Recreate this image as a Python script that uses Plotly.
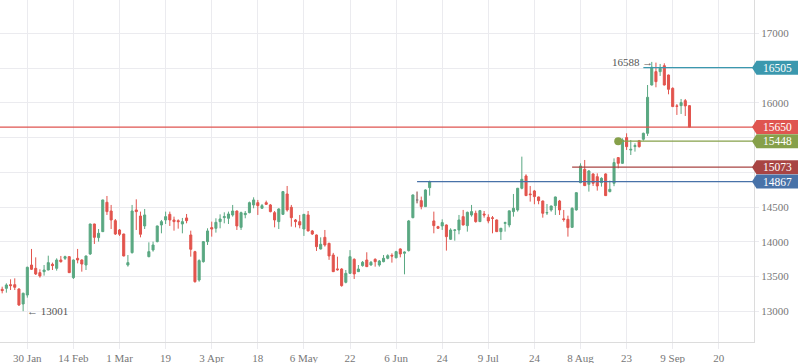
import pandas as pd
import plotly.graph_objects as go

# ---------------- data ----------------
holidays = ["2019-03-08", "2019-05-01", "2019-05-09", "2019-06-12"]
dates = [d.strftime("%Y-%m-%d") for d in pd.bdate_range("2019-01-22", "2019-09-13")
         if d.strftime("%Y-%m-%d") not in holidays]

opens = [13316, 13330, 13383, 13383, 13321, 13105, 13234, 13666, 13618, 13556,
         13570, 13594, 13676, 13618, 13738, 13762, 13786, 13484, 13762, 13738,
         13666, 13825, 14256, 14060, 14146, 14568, 14443, 14304, 14170, 14112,
         13666, 13844, 14458, 14371, 14228, 13786, 13882, 14002, 14242, 14314,
         14395, 14314, 14304, 14256, 14343, 14098, 13858, 13450, 13714, 14002,
         14204, 14194, 14290, 14348, 14338, 14386, 14443, 14208, 14390, 14419,
         14530, 14563, 14482, 14563, 14530, 14419, 14290, 14395, 14688, 14496,
         14314, 14290, 14184, 14386, 14156, 14098, 13896, 14064, 13978, 13810,
         13610, 13608, 13417, 13546, 13748, 13570, 13657, 13738, 13666, 13748,
         13666, 13714, 13762, 13805, 13770, 13897, 13835, 13873, 14347, 14602,
         14592, 14506, 14779, 14300, 14218, 14228, 14242, 14036, 14165, 14170,
         14362, 14232, 14386, 14410, 14290, 14400, 14352, 14345, 14314, 14146,
         14265, 14242, 14434, 14458, 14770, 14947, 14688, 14731, 14645, 14587,
         14415, 14458, 14520, 14587, 14330, 14323, 14208, 14458, 14851, 15043,
         14827, 14976, 14937, 14851, 14976, 14722, 14842, 15211, 15129, 15499,
         15320, 15370, 15455, 15475, 15561, 16256, 16448, 16448, 16534, 16400,
         16208, 15955, 15959, 16031, 15959]
highs = [13354, 13402, 13460, 13474, 13330, 13268, 13642, 13897, 13776, 13604,
         13666, 13800, 13700, 13762, 13796, 13800, 13795, 13745, 13897, 13748,
         13800, 14260, 14260, 14184, 14605, 14659, 14530, 14328, 14184, 14115,
         13810, 14530, 14611, 14434, 14472, 13992, 14002, 14232, 14314, 14434,
         14434, 14362, 14323, 14343, 14400, 14160, 13870, 13748, 14010, 14194,
         14290, 14338, 14395, 14424, 14434, 14530, 14450, 14434, 14443, 14578,
         14640, 14602, 14544, 14592, 14544, 14443, 14482, 14731, 14803, 14530,
         14328, 14386, 14400, 14443, 14170, 14105, 14064, 14170, 13985, 13840,
         13786, 13620, 13594, 13880, 13762, 13666, 13724, 13849, 13724, 13762,
         13738, 13810, 13820, 13834, 13870, 13906, 13860, 14314, 14680, 14722,
         14650, 14755, 14880, 14434, 14230, 14323, 14250, 14194, 14180, 14386,
         14458, 14434, 14530, 14448, 14458, 14443, 14395, 14371, 14320, 14200,
         14290, 14448, 14688, 14775, 15225, 14971, 14803, 14746, 14650, 14592,
         14544, 14520, 14650, 14602, 14458, 14376, 14496, 14710, 15129, 15177,
         15033, 14985, 14985, 14928, 14985, 14880, 15200, 15215, 15489, 15561,
         15465, 15417, 15465, 15570, 16256, 16588, 16578, 16559, 16568, 16405,
         16223, 15983, 16055, 16055, 15965]
lows = [13258, 13268, 13306, 13306, 13076, 13001, 13196, 13594, 13522, 13484,
        13513, 13590, 13594, 13585, 13700, 13738, 13550, 13465, 13690, 13570,
        13594, 13810, 13969, 14002, 14140, 14386, 14184, 14098, 14084, 13790,
        13642, 13830, 14170, 14064, 14184, 13777, 13858, 13992, 14122, 14256,
        14228, 14160, 14189, 14122, 14266, 13786, 13412, 13426, 13700, 13954,
        14074, 14132, 14194, 14266, 14256, 14362, 14170, 14170, 14338, 14410,
        14482, 14386, 14478, 14530, 14424, 14208, 14184, 14386, 14434, 14218,
        14208, 14194, 14084, 14150, 14098, 13868, 13890, 13930, 13740, 13565,
        13585, 13354, 13402, 13537, 13465, 13565, 13642, 13640, 13657, 13642,
        13642, 13705, 13748, 13700, 13762, 13776, 13532, 13860, 14338, 14554,
        14467, 14500, 14664, 14122, 14190, 14170, 13873, 14026, 14016, 14108,
        14235, 14146, 14362, 14275, 14285, 14347, 14266, 14122, 14140, 14026,
        14146, 14208, 14362, 14434, 14755, 14660, 14578, 14540, 14540, 14347,
        14386, 14434, 14386, 14386, 14290, 14074, 14200, 14448, 14842, 14805,
        14722, 14803, 14736, 14794, 14660, 14712, 14800, 15057, 15120, 15321,
        15249, 15297, 15355, 15455, 15523, 16250, 16223, 16386, 16250, 16122,
        15940, 15825, 15839, 15810, 15645]
closes = [13297, 13378, 13369, 13345, 13091, 13259, 13633, 13604, 13537, 13508,
          13594, 13700, 13657, 13738, 13714, 13786, 13556, 13738, 13738, 13680,
          13796, 14256, 14064, 14122, 14602, 14434, 14314, 14112, 14108, 13796,
          13700, 14443, 14434, 14108, 14386, 13858, 13954, 14228, 14290, 14362,
          14314, 14290, 14290, 14290, 14304, 13892, 13426, 13729, 14002, 14156,
          14184, 14280, 14328, 14362, 14400, 14443, 14228, 14419, 14410, 14563,
          14602, 14520, 14520, 14539, 14434, 14314, 14472, 14722, 14458, 14347,
          14290, 14242, 14395, 14156, 14112, 13930, 13964, 13954, 13796, 13570,
          13598, 13369, 13546, 13786, 13537, 13608, 13705, 13642, 13705, 13714,
          13724, 13762, 13800, 13795, 13858, 13825, 13852, 14300, 14674, 14602,
          14506, 14746, 14865, 14232, 14194, 14276, 14074, 14170, 14170, 14314,
          14242, 14424, 14434, 14290, 14448, 14386, 14300, 14337, 14146, 14194,
          14275, 14445, 14482, 14770, 14899, 14664, 14678, 14650, 14592, 14410,
          14420, 14515, 14645, 14458, 14320, 14204, 14482, 14707, 15091, 14808,
          15019, 14842, 14803, 14913, 14664, 14755, 15140, 15129, 15465, 15369,
          15330, 15384, 15369, 15561, 16079, 16511, 16304, 16496, 16256, 16194,
          15945, 15950, 16003, 15955, 15650]

tick_labels = ["30 Jan", "14 Feb", "1 Mar", "19", "3 Apr", "18", "6 May", "22",
               "6 Jun", "24", "9 Jul", "24", "8 Aug", "23", "9 Sep", "20"]
first_tick_date = "2019-01-30"
tick_step = 11
y_ticks = [13000, 13500, 14000, 14500, 15000, 15500, 16000, 16500, 17000]

levels = [16505, 15650, 15448, 15073, 14867]
level_starts = ["2019-08-29", None, "2019-08-21", "2019-08-06", "2019-06-14"]
level_colors = ["#3b98ae", "#df5550", "#86a04a", "#a84443", "#4872a8"]
dot_level = 15448

high_note = ("2019-09-03", 16588)
low_note = ("2019-01-29", 13001)

# ---------------- figure ----------------
n = len(opens)
xs = list(range(n))
idx = {d: i for i, d in enumerate(dates[:n])}

X_RANGE = [-0.52, 179.4]
Y_RANGE = [12558, 17479]

GREEN = "#5aa882"
RED = "#e2544d"

fig = go.Figure()
fig.add_trace(go.Candlestick(
    x=xs, open=opens, high=highs, low=lows, close=closes,
    increasing=dict(line=dict(color=GREEN, width=1), fillcolor=GREEN),
    decreasing=dict(line=dict(color=RED, width=1), fillcolor=RED),
    whiskerwidth=0, showlegend=False, hoverinfo="skip"))

# doji candles (open == close) drawn grey
dj = [i for i in range(n) if opens[i] == closes[i]]
if dj:
    fig.add_trace(go.Candlestick(
        x=[xs[i] for i in dj], open=[opens[i] for i in dj], high=[highs[i] for i in dj],
        low=[lows[i] for i in dj], close=[closes[i] for i in dj],
        increasing=dict(line=dict(color="#8a8a8a", width=1), fillcolor="#8a8a8a"),
        decreasing=dict(line=dict(color="#8a8a8a", width=1), fillcolor="#8a8a8a"),
        whiskerwidth=0, showlegend=False, hoverinfo="skip"))

shapes = []
annotations = []
PLOT_H = 342.0
PLOT_W = 754.0
yspan = Y_RANGE[1] - Y_RANGE[0]
for lv, st, col in zip(levels, level_starts, level_colors):
    x0 = X_RANGE[0] if st is None else idx[st]
    shapes.append(dict(type="line", xref="x", yref="y", x0=x0, x1=X_RANGE[1],
                       y0=lv, y1=lv, line=dict(color=col, width=1.3), layer="above"))
    yp = (lv - Y_RANGE[0]) / yspan
    h = 7.0 / PLOT_H
    xa = 1 - 2.0 / PLOT_W
    xb = 1 + 2.5 / PLOT_W
    xc = 1 + 44.0 / PLOT_W
    path = (f"M {xa},{yp} L {xb},{yp + h} L {xc},{yp + h} "
            f"L {xc},{yp - h} L {xb},{yp - h} Z")
    shapes.append(dict(type="path", xref="paper", yref="paper", path=path,
                       fillcolor=col, line=dict(width=0), layer="above"))
    annotations.append(dict(xref="paper", yref="y", x=1 + 23.0 / PLOT_W, y=lv,
                            text=str(lv), showarrow=False, xanchor="center",
                            yanchor="middle",
                            font=dict(family="Liberation Serif", size=11.5, color="white")))

# y tick labels hidden where a level tag covers them (as in the reference)
px_per_unit = PLOT_H / yspan
y_ticktext = ["" if any(abs(t - lv) * px_per_unit < 12 for lv in levels) else str(t)
              for t in y_ticks]

fig.add_trace(go.Scatter(x=[idx["2019-08-21"]], y=[dot_level], mode="markers",
                         marker=dict(color="#86a04a", size=8),
                         showlegend=False, hoverinfo="skip"))

annotations.append(dict(xref="x", yref="y", x=idx[high_note[0]], y=high_note[1],
                        text=f"{high_note[1]} →", showarrow=False, xanchor="right",
                        yanchor="middle", xshift=-1,
                        font=dict(family="Liberation Serif", size=11, color="#555")))
annotations.append(dict(xref="x", yref="y", x=idx[low_note[0]], y=low_note[1],
                        text=f"← {low_note[1]}", showarrow=False, xanchor="left",
                        yanchor="middle", xshift=2,
                        font=dict(family="Liberation Serif", size=11, color="#555")))

t0 = idx[first_tick_date]
tickvals = [t0 + tick_step * i for i in range(len(tick_labels))]

GRID = "#ebebef"
fig.update_layout(
    width=798, height=363,
    margin=dict(l=0, r=44, t=0, b=21, autoexpand=False),
    paper_bgcolor="white", plot_bgcolor="white",
    shapes=shapes, annotations=annotations,
    font=dict(family="Liberation Serif", size=11, color="#777"),
    xaxis=dict(range=X_RANGE, tickvals=tickvals, ticktext=tick_labels,
               showgrid=True, gridcolor=GRID, gridwidth=1,
               ticks="outside", ticklen=6, tickcolor=GRID,
               showline=True, linecolor="#dcdcdc", linewidth=1,
               zeroline=False, rangeslider=dict(visible=False), automargin=False,
               tickfont=dict(family="Liberation Serif", size=11, color="#777")),
    yaxis=dict(range=Y_RANGE, side="right", tickvals=y_ticks, ticktext=y_ticktext,
               showgrid=True, gridcolor=GRID, gridwidth=1,
               ticks="outside", ticklen=4, tickcolor=GRID,
               showline=True, linecolor="#dcdcdc", linewidth=1,
               zeroline=False, automargin=False,
               tickfont=dict(family="Liberation Serif", size=11, color="#777")),
)

fig.write_html("out.html", config={"displayModeBar": False},
               post_script="document.body.style.margin='0px';document.body.style.overflow='hidden';")
